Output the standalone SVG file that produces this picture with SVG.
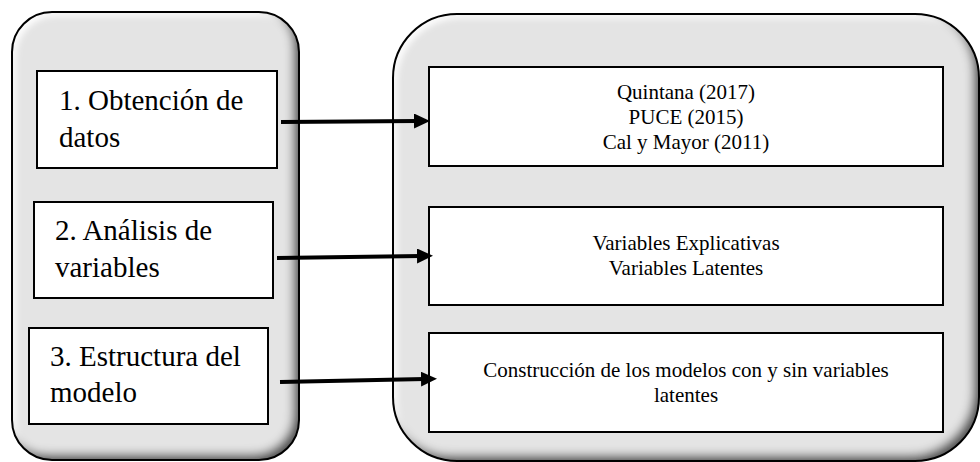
<svg xmlns="http://www.w3.org/2000/svg" width="980" height="462" viewBox="0 0 980 462">
  <defs>
    <style>
      .panel { fill: #e4e4e4; filter: url(#bevel); }
      .panel-edge { fill: none; stroke: #000; stroke-width: 2; }
      .box { fill: #fff; stroke: #000; stroke-width: 2; }
      .big { font-family: "Liberation Serif", "Times New Roman", serif; font-size: 29px; fill: #000; }
      .small { font-family: "Liberation Serif", "Times New Roman", serif; font-size: 21px; fill: #000; text-anchor: middle; }
      .conn { stroke: #000; stroke-width: 4; fill: none; marker-end: url(#arrow); }
    </style>
    <filter id="bevel" x="-10%" y="-10%" width="120%" height="120%">
      <feComponentTransfer in="SourceAlpha" result="inv">
        <feFuncA type="table" tableValues="1 0"/>
      </feComponentTransfer>
      <feGaussianBlur in="inv" stdDeviation="5" result="blur"/>
      <feOffset in="blur" dx="-6" dy="-6" result="off"/>
      <feFlood flood-color="#000" flood-opacity="0.9"/>
      <feComposite in2="off" operator="in" result="shadow"/>
      <feComposite in="shadow" in2="SourceAlpha" operator="in" result="innerShadow"/>
      <feGaussianBlur in="inv" stdDeviation="3" result="blur2"/>
      <feOffset in="blur2" dx="4" dy="4" result="off2"/>
      <feFlood flood-color="#fff" flood-opacity="0.95"/>
      <feComposite in2="off2" operator="in" result="hl"/>
      <feComposite in="hl" in2="SourceAlpha" operator="in" result="innerHl"/>
      <feMerge>
        <feMergeNode in="SourceGraphic"/>
        <feMergeNode in="innerHl"/>
        <feMergeNode in="innerShadow"/>
      </feMerge>
    </filter>
    <marker id="arrow" markerUnits="userSpaceOnUse" markerWidth="16" markerHeight="16" refX="4" refY="7.5" orient="auto">
      <path d="M0,0 L16,7.5 L0,15 z" fill="#000"/>
    </marker>
  </defs>

  <g id="left-panel">
    <rect class="panel" x="12" y="12" width="287" height="448" rx="40" ry="40"/>
    <rect class="panel-edge" x="12" y="12" width="287" height="448" rx="40" ry="40"/>
  </g>
  <g id="right-panel">
    <rect class="panel" x="393" y="14" width="586" height="447" rx="64" ry="64"/>
    <rect class="panel-edge" x="393" y="14" width="586" height="447" rx="64" ry="64"/>
  </g>

  <g id="step1">
    <rect class="box" x="37" y="71" width="240" height="97"/>
    <text class="big" x="59" y="110">1. Obtención de</text>
    <text class="big" x="59" y="147">datos</text>
  </g>
  <g id="step2">
    <rect class="box" x="34" y="202" width="239" height="96"/>
    <text class="big" x="55" y="240">2. Análisis de</text>
    <text class="big" x="55" y="277">variables</text>
  </g>
  <g id="step3">
    <rect class="box" x="29" y="328" width="239" height="96"/>
    <text class="big" x="50" y="366">3. Estructura del</text>
    <text class="big" x="50" y="402">modelo</text>
  </g>

  <g id="sources">
    <rect class="box" x="429" y="67" width="514" height="99"/>
    <text class="small" x="686" y="99">Quintana (2017)</text>
    <text class="small" x="686" y="124">PUCE (2015)</text>
    <text class="small" x="686" y="149">Cal y Mayor (2011)</text>
  </g>
  <g id="variables">
    <rect class="box" x="429" y="207" width="514" height="98"/>
    <text class="small" x="686" y="250">Variables Explicativas</text>
    <text class="small" x="686" y="275">Variables Latentes</text>
  </g>
  <g id="models">
    <rect class="box" x="429" y="333" width="514" height="99"/>
    <text class="small" x="686" y="377">Construcción de los modelos con y sin variables</text>
    <text class="small" x="686" y="402">latentes</text>
  </g>

  <g id="connectors">
    <path class="conn" d="M281,122 L418,121"/>
    <path class="conn" d="M277,258 L421,256"/>
    <path class="conn" d="M280,382 L425,379"/>
  </g>
</svg>
